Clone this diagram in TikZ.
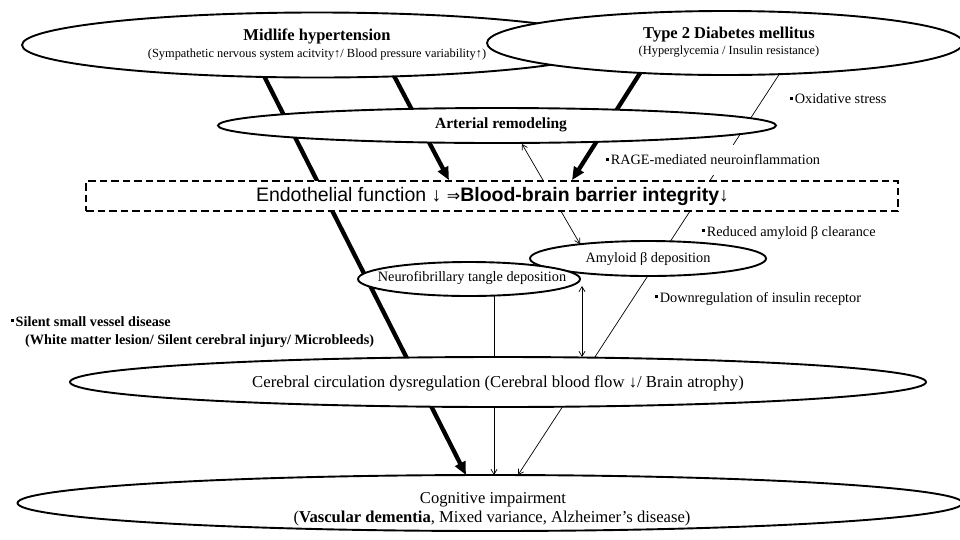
\documentclass[tikz,border=0pt]{standalone}
\usepackage{fontspec}
\setmainfont{Liberation Serif}
\newfontfamily\sansf{Liberation Sans}
\newfontfamily\djv{DejaVu Sans}
\usetikzlibrary{shapes.geometric,arrows.meta,calc}
\pgfdeclarelayer{bg}
\pgfdeclarelayer{paper}
\pgfsetlayers{paper,bg,main}
\newcommand{\myfs}[1]{\fontsize{#1}{#1}\selectfont}
\newcommand{\sqb}{\raisebox{0.3em}{\rule{0.2em}{0.2em}}\kern0.12em}
\begin{document}
\begin{tikzpicture}[x=1pt,y=-1pt,
  ell/.style={ellipse, draw, fill=white, line width=1.9pt, inner sep=0pt},
  txt/.style={inner sep=0pt},
  lbl/.style={anchor=west, inner sep=0pt, font=\myfs{14.3}},
  dbox/.style={draw, fill=white, line width=1.7pt, dash pattern=on 7.5pt off 4pt, inner sep=0pt},
  bigarr/.style={line width=4.3pt, -{Triangle[length=13pt,width=11pt]}},
  thinarr/.style={line width=0.7pt, -{Straight Barb[length=5pt,width=6pt]}},
  dblarr/.style={line width=0.7pt, {Straight Barb[length=5pt,width=6pt]}-{Straight Barb[length=5pt,width=6pt]}}
]
\useasboundingbox (0,0) rectangle (960,539);
\begin{pgfonlayer}{paper}
  \fill[white] (0,0) rectangle (960,539);
\end{pgfonlayer}

% top ellipses
\node[ell, minimum width=590pt, minimum height=65pt] (mid) at (317,45) {};
\node[txt] (midh) at (317,36) {\myfs{16.5}\bfseries Midlife hypertension};
\node[txt] (mids) at (317,55) {\myfs{12.4}(Sympathetic nervous system acitvity↑/ Blood pressure variability↑)};
\node[ell, minimum width=476pt, minimum height=64pt] (t2d) at (725,43) {};
\node[txt] (t2dh) at (729,35) {\myfs{16.5}\bfseries Type 2 Diabetes mellitus};
\node[txt] (t2ds) at (729,52) {\myfs{12.4}(Hyperglycemia / Insulin resistance)};

% arterial remodeling
\node[ell, minimum width=558pt, minimum height=35pt] (art) at (497,125.5) {};
\node[txt] (artt) at (501,125) {\myfs{15.5}\bfseries Arterial remodeling};

% dashed box
\node[dbox, minimum width=812pt, minimum height=30pt] (box) at (492,196) {};
\node[txt] (boxt) at (492.5,196) {\sansf\myfs{19.5}Endothelial function ↓ {\djv\myfs{16}⇒}\textbf{Blood-brain barrier integrity}↓};

% amyloid and tangle
\node[ell, minimum width=236pt, minimum height=35pt] (amy) at (648,258.5) {};
\node[txt] (amyt) at (648,259) {\myfs{14.3}Amyloid β deposition};
\node[ell, minimum width=222pt, minimum height=34pt] (neu) at (469,279) {};
\node[txt] (neut) at (472,278) {\myfs{14.3}Neurofibrillary tangle deposition};

% cerebral circulation
\node[ell, minimum width=856pt, minimum height=50pt] (cer) at (498,382) {};
\node[txt] (cert) at (498,383) {\myfs{16.7}Cerebral circulation dysregulation (Cerebral blood flow ↓/ Brain atrophy)};

% cognitive impairment
\node[ell, minimum width=945pt, minimum height=56pt] (cog) at (490,503) {};
\node[txt] (cogt1) at (493,500) {\myfs{16.6}Cognitive impairment};
\node[txt] (cogt2) at (492,518) {\myfs{16.6}(\textbf{Vascular dementia}, Mixed variance, Alzheimer’s disease)};

% labels
\node[lbl] (ox) at (790,99) {\sqb Oxidative stress};
\node[lbl, fill=white, inner ysep=10pt] (rage) at (606,160) {\sqb RAGE-mediated neuroinflammation};
\node[lbl] (red) at (702,233) {\sqb Reduced amyloid β clearance};
\node[lbl] (down) at (655,299) {\sqb Downregulation of insulin receptor};
\node[anchor=west, inner sep=0pt, align=left, font=\fontsize{14.2}{18}\selectfont\bfseries] (sil) at (11,332)
  {\sqb Silent small vessel disease\\\hspace*{14pt}(White matter lesion/ Silent cerebral injury/ Microbleeds)};

% connectors behind the shapes
\begin{pgfonlayer}{bg}
  \draw[bigarr] ($(mid.center)+(-55,27)$) -- ($(cog.center)+(-24,-28)$);
  \draw[bigarr] ($(mid.center)+(75,27)$) -- ($(box.north)+(-43,0)$);
  \draw[bigarr] ($(t2d.center)+(-83,27)$) -- ($(box.north)+(80,0)$);
  \draw[thinarr] ($(t2d.center)+(57,27)$) -- ($(cog.center)+(28,-28)$);
  \draw[dblarr] ($(art.center)+(25,18.5)$) -- ($(amy.center)+(-68,-14.5)$);
  \draw[thinarr] ($(neu.center)+(25,14)$) -- ($(cog.center)+(4,-28)$);
  \draw[dblarr] ($(neu.center)+(113,7)$) -- ($(cer.center)+(84,-25)$);
\end{pgfonlayer}
\end{tikzpicture}
\end{document}
